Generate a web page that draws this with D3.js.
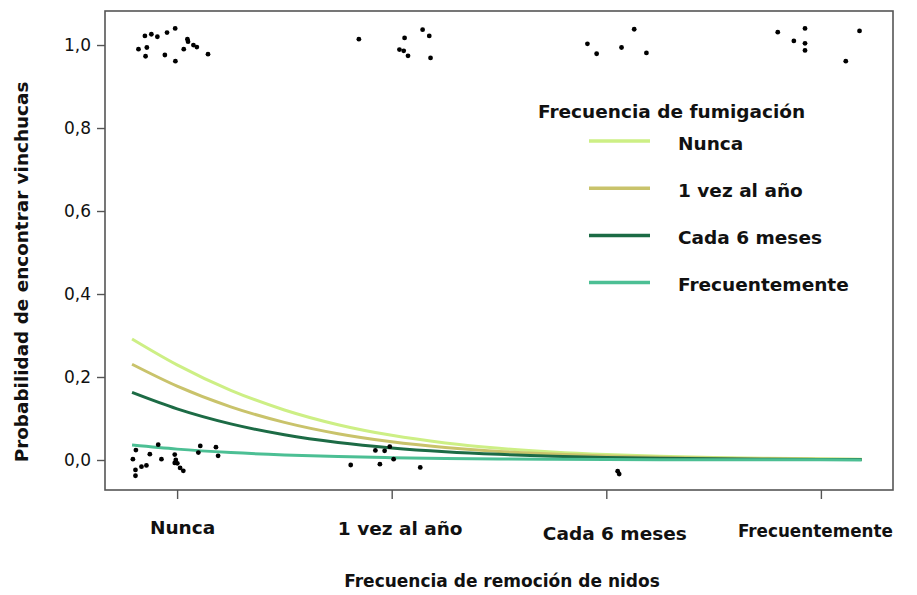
<!DOCTYPE html>
<html><head><meta charset="utf-8">
<script src="https://cdn.jsdelivr.net/npm/d3@7"></script>
<style>body{margin:0;background:#fff;} svg{display:block;font-family:"DejaVu Sans",sans-serif;}</style>
</head><body>
<svg id="c" width="917" height="595"></svg>
<script>
// ---- data ----
const categories = ["Nunca", "1 vez al año", "Cada 6 meses", "Frecuentemente"];
const seriesNames = ["Nunca", "1 vez al año", "Cada 6 meses", "Frecuentemente"];
const seriesColors = ["#cdef85", "#c9c36b", "#1c6b45", "#4cbf94"];
const yTicks = [0, 0.2, 0.4, 0.6, 0.8, 1.0];
// x positions (1..4 = removal-frequency category) at which curve values were read
const curveX = [0.79, 1.0, 1.25, 1.5, 1.75, 2.0, 2.25, 2.5, 2.75, 3.0, 3.25, 3.5, 3.75, 4.0, 4.19];
const curveNunca   = [0.2917, 0.2293, 0.1680, 0.1206, 0.0851, 0.0594, 0.0411, 0.0283, 0.0194, 0.0132, 0.0090, 0.0061, 0.0042, 0.0028, 0.0021];
const curveUnaVez  = [0.2307, 0.1780, 0.1281, 0.0907, 0.0634, 0.0439, 0.0303, 0.0207, 0.0142, 0.0097, 0.0066, 0.0045, 0.0030, 0.0021, 0.0015];
const curveCada6   = [0.1629, 0.1233, 0.0871, 0.0608, 0.0421, 0.0290, 0.0199, 0.0136, 0.0092, 0.0063, 0.0043, 0.0029, 0.0020, 0.0013, 0.0010];
const curveFrecuen = [0.0360, 0.0262, 0.0180, 0.0123, 0.0084, 0.0057, 0.0039, 0.0026, 0.0018, 0.0012, 0.0008, 0.0006, 0.0004, 0.0003, 0.0002];
// observed (jittered) points
const pointX = [
  0.850,0.880,0.908,0.953,0.991,1.048,1.051,1.076,1.092,1.031,0.820,0.859,0.853,0.943,0.992,1.144,
  1.847,2.060,2.144,2.175,2.036,2.056,2.076,2.181,
  2.912,2.955,3.130,3.071,3.187,
  3.799,3.926,4.180,3.874,3.926,3.926,4.116,
  0.808,0.794,0.806,0.806,0.834,0.857,0.873,0.912,0.927,0.989,0.994,0.989,1.001,1.014,1.029,1.099,1.108,1.181,1.191,
  1.809,1.945,2.133,1.924,1.967,1.991,2.009,
  3.053,3.060];
const pointY = [
  1.022,1.026,1.020,1.030,1.040,1.014,1.008,1.000,0.995,0.990,0.990,0.994,0.973,0.976,0.961,0.978,
  1.014,1.017,1.037,1.022,0.989,0.986,0.974,0.969,
  1.003,0.979,1.038,0.994,0.981,
  1.031,1.040,1.034,1.010,1.004,0.987,0.961,
  0.024,0.002,-0.024,-0.038,-0.016,-0.013,0.014,0.037,0.002,0.013,0.000,-0.007,-0.008,-0.019,-0.026,0.018,0.034,0.031,0.010,
  -0.012,-0.010,-0.018,0.023,0.022,0.032,0.002,
  -0.027,-0.034];

// ---- chart ----
const svg = d3.select("#c");
const x = d3.scaleLinear().domain([0.664, 4.336]).range([105, 893]);
const y = d3.scaleLinear().domain([-0.0723, 1.082]).range([490, 11]);
const axisColor = "#555";
const FONT = "DejaVu Sans, sans-serif";

const curves = [curveNunca, curveUnaVez, curveCada6, curveFrecuen];
const line = d3.line().x(d => x(d[0])).y(d => y(d[1])).curve(d3.curveMonotoneX);
curves.forEach((vals, i) => {
  svg.append("path")
    .attr("d", line(curveX.map((cx, j) => [cx, vals[j]])))
    .attr("fill", "none").attr("stroke", seriesColors[i]).attr("stroke-width", 3);
});

svg.append("g").selectAll("circle").data(pointX).join("circle")
  .attr("cx", d => x(d)).attr("cy", (d, i) => y(pointY[i])).attr("r", 2.4).attr("fill", "#000");

// box
svg.append("rect").attr("x", 105).attr("y", 11).attr("width", 788).attr("height", 479)
  .attr("fill", "none").attr("stroke", axisColor).attr("stroke-width", 1.6);

// y axis
const gy = svg.append("g").attr("transform", "translate(105,0)")
  .call(d3.axisLeft(y).tickValues(yTicks).tickSize(8).tickPadding(6)
    .tickFormat(d => d.toFixed(1).replace(".", ",")));
gy.select(".domain").remove();
gy.selectAll("line").attr("stroke", axisColor).attr("stroke-width", 1.4);
gy.selectAll("text").attr("font-size", 17).attr("fill", "#111").attr("font-family", FONT);

// x axis
const labelShift = [[5, 0], [8, 1], [8, 6], [-6, 3]];
const gx = svg.append("g").attr("transform", "translate(0,490)")
  .call(d3.axisBottom(x).tickValues([1, 2, 3, 4]).tickSize(9).tickPadding(22)
    .tickFormat((d, i) => categories[i]));
gx.select(".domain").remove();
gx.selectAll("line").attr("stroke", axisColor).attr("stroke-width", 1.4);
gx.selectAll("text").attr("font-size", 18.5).attr("font-weight", "bold").attr("fill", "#111")
  .attr("font-family", FONT)
  .attr("transform", (d, i) => `translate(${labelShift[i][0]},${labelShift[i][1]})`)
  .filter((d, i) => i === 3)
  .attr("textLength", 155).attr("lengthAdjust", "spacingAndGlyphs");

// axis titles
svg.append("text").attr("transform", "translate(28,272) rotate(-90)").attr("text-anchor", "middle")
  .attr("font-size", 18.4).attr("font-weight", "bold").attr("fill", "#111").text("Probabilidad de encontrar vinchucas");
svg.append("text").attr("x", 502).attr("y", 587).attr("text-anchor", "middle")
  .attr("font-size", 17).attr("font-weight", "bold").attr("fill", "#111").text("Frecuencia de remoción de nidos");

// legend
const lg = svg.append("g");
lg.append("text").attr("x", 538).attr("y", 118).attr("font-size", 18.5).attr("font-weight", "bold")
  .attr("fill", "#111").text("Frecuencia de fumigación");
seriesNames.forEach((n, i) => {
  const yy = 141 + i * 47.2;
  lg.append("line").attr("x1", 589).attr("x2", 650).attr("y1", yy).attr("y2", yy)
    .attr("stroke", seriesColors[i]).attr("stroke-width", 3.5);
  lg.append("text").attr("x", 678).attr("y", yy + 2).attr("dy", "0.36em").attr("font-size", 18.5)
    .attr("font-weight", "bold").attr("fill", "#111").text(n);
});
</script>
</body></html>
